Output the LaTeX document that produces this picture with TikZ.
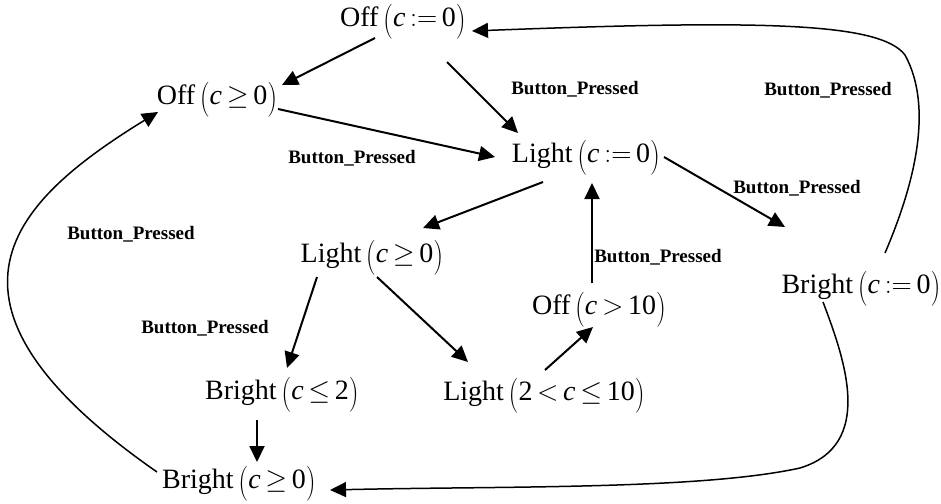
\RequirePackage{fix-cm}
\documentclass[tikz,border=0pt]{standalone}
\usepackage{graphicx}
\usepackage{fontspec}
\setmainfont{Liberation Serif}
\usetikzlibrary{arrows.meta}

\newcommand{\lpar}{\,\raisebox{-0.14em}{\scalebox{1}[1.25]{$($}}}
\newcommand{\rpar}{\raisebox{-0.14em}{\scalebox{1}[1.25]{$)$}}}
\newcommand{\stlabel}[2]{#1\lpar#2\rpar}

\begin{document}
\begin{tikzpicture}[x=1pt,y=1pt,
  stnode/.style={font=\fontsize{28}{30}\selectfont,inner sep=0pt},
  evlabel/.style={font=\bfseries\fontsize{19}{22}\selectfont,inner sep=0pt},
  trans/.style={draw=black,line width=2pt,-{Triangle[length=16pt,width=15pt]}},
  backarc/.style={draw=black,line width=1.5pt,-{Triangle[length=16pt,width=15pt]}}]
\useasboundingbox (0,-503) rectangle (941,0);
% states:
\node[stnode] (off0) at (403,-22) {\stlabel{Off}{\textit{c}\,$:=$\,0}};
\node[stnode] (offge) at (217,-100) {\stlabel{Off}{\textit{c}\,$\geq$\,0}};
\node[stnode] (lightz) at (586,-158) {\stlabel{Light}{\textit{c}\,$:=$\,0}};
\node[stnode] (lightge) at (372,-258) {\stlabel{Light}{\textit{c}\,$\geq$\,0}};
\node[stnode] (offgt) at (599,-310) {\stlabel{Off}{\textit{c}\,$>$\,10}};
\node[stnode] (brightz) at (861,-289) {\stlabel{Bright}{\textit{c}\,$:=$\,0}};
\node[stnode] (brightle) at (282,-395) {\stlabel{Bright}{\textit{c}\,$\leq$\,2}};
\node[stnode] (lightmid) at (544,-396) {\stlabel{Light}{2\,$<$\,\textit{c}\,$\leq$\,10}};
\node[stnode] (brightge) at (239,-484) {\stlabel{Bright}{\textit{c}\,$\geq$\,0}};
% events:
\node[evlabel] (ev1) at (575,-89) {Button\_Pressed};
\node[evlabel] (ev2) at (352,-158) {Button\_Pressed};
\node[evlabel] (ev3) at (797,-188) {Button\_Pressed};
\node[evlabel] (ev4) at (828,-90) {Button\_Pressed};
\node[evlabel] (ev5) at (131,-234) {Button\_Pressed};
\node[evlabel] (ev6) at (658,-257) {Button\_Pressed};
\node[evlabel] (ev7) at (205,-328) {Button\_Pressed};
% transitions:
\draw[trans] ([shift={(-28,-16)}]off0.center) -- ([shift={(65,15)}]offge.center);
\draw[trans] ([shift={(44,-40)}]off0.center) -- ([shift={(-68,25)}]lightz.center);
\draw[trans] ([shift={(61,-9)}]offge.center) -- ([shift={(-91,1)}]lightz.center);
\draw[trans] ([shift={(-43,-24)}]lightz.center) -- ([shift={(51,30)}]lightge.center);
\draw[trans] ([shift={(78,1)}]lightz.center) -- ([shift={(-76,62)}]brightz.center);
\draw[trans] ([shift={(-7,27)}]offgt.center) -- ([shift={(6,-25)}]lightz.center);
\draw[trans] ([shift={(-55,-19)}]lightge.center) -- ([shift={(5,27)}]brightle.center);
\draw[trans] ([shift={(5,-19)}]lightge.center) -- ([shift={(-76,34)}]lightmid.center);
\draw[trans] ([shift={(1,26)}]lightmid.center) -- ([shift={(-6,-17)}]offgt.center);
\draw[trans] ([shift={(-25,-25)}]brightle.center) -- ([shift={(18,22)}]brightge.center);
% long arcs:
\draw[backarc] ([shift={(24,36)}]brightz.center) .. controls (912,-190) and (935,-110) .. (905,-55)
  .. controls (880,-22) and (760,-20) .. ([shift={(69,-9)}]off0.center);
\draw[backarc] ([shift={(-38,-13)}]brightz.center) .. controls (845,-360) and (875,-445) .. (800,-468)
  .. controls (700,-490) and (500,-486) .. ([shift={(91,-6)}]brightge.center);
\draw[backarc] ([shift={(-82,12)}]brightge.center) .. controls (-90,-300) and (15,-200) .. ([shift={(-59,-12)}]offge.center);
\end{tikzpicture}
\end{document}
